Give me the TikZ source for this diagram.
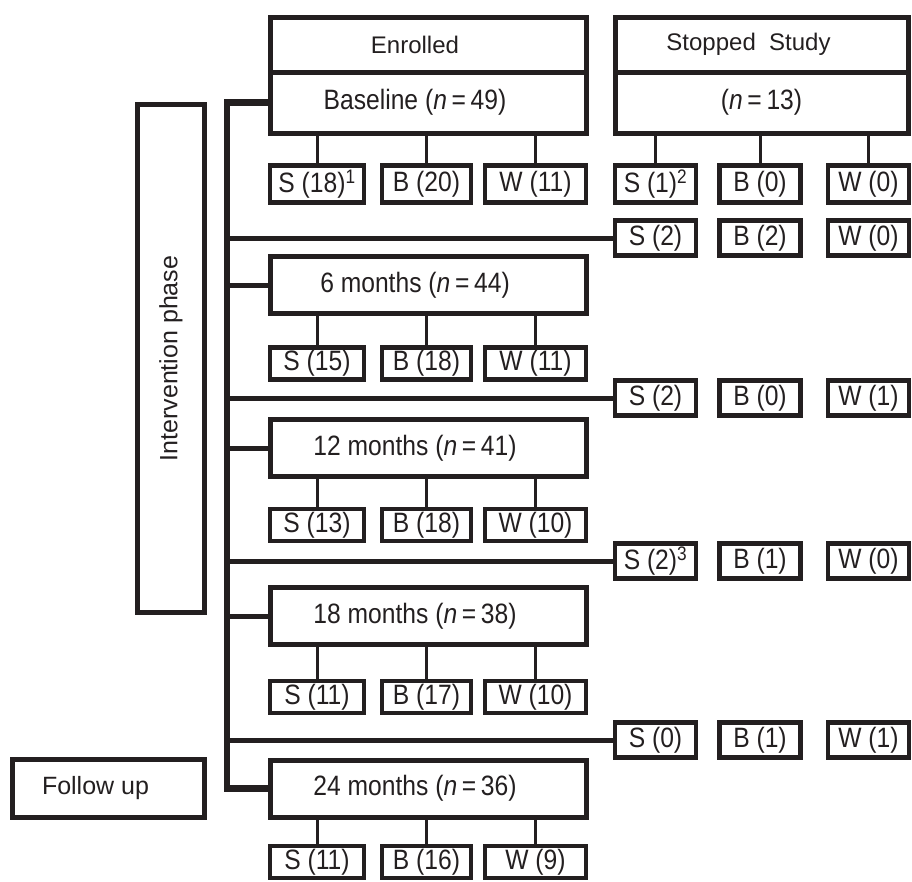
\documentclass[tikz,border=0pt]{standalone}
\usepackage{fontspec}
\setmainfont{Liberation Sans}
\newfontfamily\narrowfont[FakeStretch=0.88]{Liberation Sans}
\definecolor{ink}{RGB}{35,31,32}
\begin{document}
\begin{tikzpicture}[
    x=1pt, y=-1pt, color=ink,
    header/.style={rectangle, draw, line width=5pt, minimum width=316pt,
        minimum height=55pt, inner sep=0pt, font=\fontsize{24}{28}\selectfont},
    visit/.style={rectangle, draw, line width=5pt, minimum width=316pt,
        minimum height=57pt, inner sep=0pt,
        font=\narrowfont\fontsize{28}{32}\selectfont},
    tally/.style={rectangle, draw, line width=4.5pt, minimum height=32pt,
        inner sep=0pt, font=\narrowfont\fontsize{28}{32}\selectfont},
    dropout/.style={tally, minimum width=81pt, minimum height=35pt},
    phase/.style={rectangle, draw, line width=5pt, inner sep=0pt,
        font=\fontsize{25}{30}\selectfont},
    nudge/.style={execute at end node={\hspace{26pt}}},
    spine/.style={line width=6.5pt, line join=miter},
    branch/.style={line width=5pt},
    link/.style={line width=3pt}
]
\useasboundingbox (0,0) rectangle (912,881);

% side labels
\node (Intervention) [phase, rotate=90, minimum width=508pt, minimum height=67pt]
  at (171,358.5) {Intervention phase};
\node (FollowUp) [phase, nudge, minimum width=192pt, minimum height=58pt]
  at (108.5,788.5) {Follow up};

% enrolled column
\node (Enrolled) [header, nudge] at (428,44.5) {Enrolled};
\node (Baseline) [visit, nudge, minimum height=61pt] at (428,102.5)
  {Baseline (\textit{n}\,=\,49)};
\node (Month06) [visit, nudge] at (428,285) {6 months (\textit{n}\,=\,44)};
\node (Month12) [visit, nudge] at (428,448) {12 months (\textit{n}\,=\,41)};
\node (Month18) [visit, nudge] at (428,616) {18 months (\textit{n}\,=\,38)};
\node (Month24) [visit, nudge] at (428,788.5) {24 months (\textit{n}\,=\,36)};

\node (Base00S) [tally, minimum width=94pt, minimum height=37pt] at (317,184) {S (18)\textsuperscript{1}};
\node (Base00B) [tally, minimum width=89pt, minimum height=37pt] at (426.5,184) {B (20)};
\node (Base00W) [tally, minimum width=101pt, minimum height=37pt] at (535.5,184) {W (11)};

\node (Month06S) [tally, minimum width=94pt] at (317,363.5) {S (15)};
\node (Month06B) [tally, minimum width=89pt] at (426.5,363.5) {B (18)};
\node (Month06W) [tally, minimum width=101pt] at (535.5,363.5) {W (11)};

\node (Month12S) [tally, minimum width=94pt] at (317,525) {S (13)};
\node (Month12B) [tally, minimum width=89pt] at (426.5,525) {B (18)};
\node (Month12W) [tally, minimum width=101pt] at (535.5,525) {W (10)};

\node (Month18S) [tally, minimum width=94pt] at (317,697) {S (11)};
\node (Month18B) [tally, minimum width=89pt] at (426.5,697) {B (17)};
\node (Month18W) [tally, minimum width=101pt] at (535.5,697) {W (10)};

\node (Month24S) [tally, minimum width=94pt] at (317,862) {S (11)};
\node (Month24B) [tally, minimum width=89pt] at (426.5,862) {B (16)};
\node (Month24W) [tally, minimum width=101pt] at (535.5,862) {W (9)};

% stopped column
\node (Stopped) [header, nudge, minimum width=293pt] at (761.5,44.5) {Stopped\ \ Study};
\node (StoppedN) [visit, minimum width=293pt, minimum height=61pt] at (761.5,102.5)
  {(\textit{n}\,=\,13)};

\node (Stop00S) [dropout, minimum height=37pt] at (655.5,184) {S (1)\textsuperscript{2}};
\node (Stop00B) [dropout, minimum height=37pt] at (760,184) {B (0)};
\node (Stop00W) [dropout, minimum height=37pt] at (868.5,184) {W (0)};

\node (Stop01S) [dropout] at (655.5,238) {S (2)};
\node (Stop01B) [dropout] at (760,238) {B (2)};
\node (Stop01W) [dropout] at (868.5,238) {W (0)};

\node (Stop02S) [dropout] at (655.5,398) {S (2)};
\node (Stop02B) [dropout] at (760,398) {B (0)};
\node (Stop02W) [dropout] at (868.5,398) {W (1)};

\node (Stop03S) [dropout] at (655.5,561) {S (2)\textsuperscript{3}};
\node (Stop03B) [dropout] at (760,561) {B (1)};
\node (Stop03W) [dropout] at (868.5,561) {W (0)};

\node (Stop04S) [dropout] at (655.5,740) {S (0)};
\node (Stop04B) [dropout] at (760,740) {B (1)};
\node (Stop04W) [dropout] at (868.5,740) {W (1)};

% spine and branches
\coordinate (Spine) at (227,0);
\draw[spine] (Baseline.west) -- (Baseline.west -| Spine)
  -- (Month24.west -| Spine) -- (Month24.west);
\draw[branch] (Month06.west -| Spine) -- (Month06.west);
\draw[branch] (Month12.west -| Spine) -- (Month12.west);
\draw[branch] (Month18.west -| Spine) -- (Month18.west);
\draw[branch] (Stop01S.west -| Spine) -- (Stop01S.west);
\draw[branch] (Stop02S.west -| Spine) -- (Stop02S.west);
\draw[branch] (Stop03S.west -| Spine) -- (Stop03S.west);
\draw[branch] (Stop04S.west -| Spine) -- (Stop04S.west);

% links to the counts
\draw[link] (Base00S.north |- Baseline.south) -- (Base00S.north);
\draw[link] (Base00B.north |- Baseline.south) -- (Base00B.north);
\draw[link] (Base00W.north |- Baseline.south) -- (Base00W.north);
\draw[link] (Month06S.north |- Month06.south) -- (Month06S.north);
\draw[link] (Month06B.north |- Month06.south) -- (Month06B.north);
\draw[link] (Month06W.north |- Month06.south) -- (Month06W.north);
\draw[link] (Month12S.north |- Month12.south) -- (Month12S.north);
\draw[link] (Month12B.north |- Month12.south) -- (Month12B.north);
\draw[link] (Month12W.north |- Month12.south) -- (Month12W.north);
\draw[link] (Month18S.north |- Month18.south) -- (Month18S.north);
\draw[link] (Month18B.north |- Month18.south) -- (Month18B.north);
\draw[link] (Month18W.north |- Month18.south) -- (Month18W.north);
\draw[link] (Month24S.north |- Month24.south) -- (Month24S.north);
\draw[link] (Month24B.north |- Month24.south) -- (Month24B.north);
\draw[link] (Month24W.north |- Month24.south) -- (Month24W.north);
\draw[link] (Stop00S.north |- StoppedN.south) -- (Stop00S.north);
\draw[link] (Stop00B.north |- StoppedN.south) -- (Stop00B.north);
\draw[link] (Stop00W.north |- StoppedN.south) -- (Stop00W.north);

\end{tikzpicture}
\end{document}
